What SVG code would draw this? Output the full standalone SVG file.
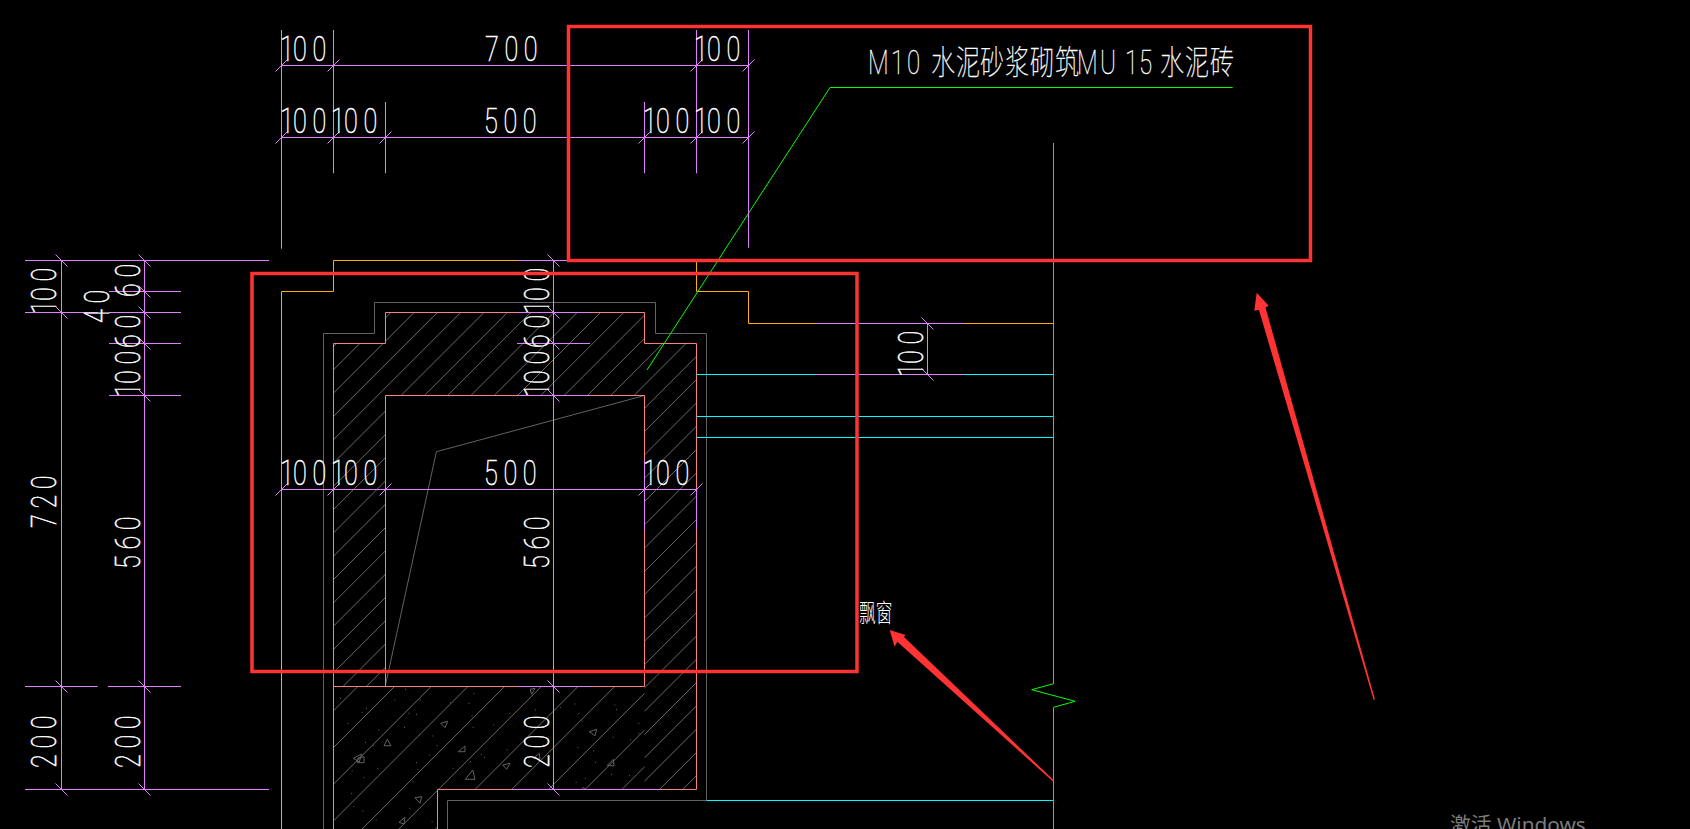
<svg xmlns="http://www.w3.org/2000/svg" width="1690" height="829" viewBox="0 0 1690 829">
<style>
.l{fill:none;stroke-width:1}
.gr{stroke:#626262}.sa{stroke:#ff7f7f}.or{stroke:#ffb000}.cy{stroke:#00ffff}.gn{stroke:#00ff00}.pu{stroke:#df80ff}.ha{stroke:#6a6a6a}
.rb{fill:none;stroke:#ff3333;stroke-width:3.5}
.ar{fill:#ff3333;stroke:none}
.d{font-family:"Roboto","Liberation Sans",sans-serif;font-weight:100;font-size:36px;letter-spacing:8px;fill:#fff;stroke:#fff;stroke-width:.6}
.n{font-family:"Roboto","Noto Sans CJK SC",sans-serif;font-weight:100;font-size:24px;fill:#fff;stroke:#fff;stroke-width:.25}
</style>
<defs>
<clipPath id="brick"><path d="M333.5 686.5V343.5H385.5V312.5H644.5V343.5H696.5V789.5H644.5V395.5H385.5V686.5Z"/></clipPath>
<clipPath id="conc"><path d="M333.5 686.5H644.5V789.5H437.5V829H333.5Z"/></clipPath>
</defs>
<rect width="1690" height="829" fill="#000"/>
<g id="hatching">
<path class="l ha" clip-path="url(#brick)" d="M300 380l420-420M300 403.3l420-420M300 426.6l420-420M300 449.9l420-420M300 473.2l420-420M300 496.5l420-420M300 519.8l420-420M300 543.1l420-420M300 566.4l420-420M300 589.7l420-420M300 613l420-420M300 636.3l420-420M300 659.6l420-420M300 682.9l420-420M300 706.2l420-420M300 729.5l420-420M300 752.8l420-420M300 776.1l420-420M300 799.4l420-420M300 822.7l420-420M300 846l420-420M300 869.3l420-420M300 892.6l420-420M300 915.9l420-420M300 939.2l420-420M300 962.5l420-420M300 985.8l420-420M300 1009.1l420-420M300 1032.4l420-420M300 1055.7l420-420M300 1079l420-420M300 1102.3l420-420M300 1125.6l420-420M300 1148.9l420-420M300 1172.2l420-420M300 1195.5l420-420"/>
<path class="l ha" clip-path="url(#conc)" d="M300 744.3l420-420M300 781l420-420M300 817.7l420-420M300 854.4l420-420M300 891.1l420-420M300 927.8l420-420M300 964.5l420-420M300 1001.2l420-420M300 1037.9l420-420M300 1074.6l420-420M300 1111.3l420-420"/>
<path class="l gr" d="M387.3 739.3L391 745.7H384ZM353.3 758.3L361.7 754L359.3 762ZM358 758L364 756.7V762.7H357.3ZM440.7 723.3L447.7 721.3L445 727.7ZM458.3 751.7L465 746V751.7ZM465.3 779.3L472.7 770L475 779.3ZM502.7 765L510 763.3L506.7 769.3ZM415 797.7L421.7 796.7L420 803.3ZM399 822.3L405 817.3L404 824ZM589.3 731.7L596.7 729.3L595 735.7ZM607.3 765.3L613.3 759.3L614 766ZM533.3 758.3L539.3 753.3L540 759.3ZM530 689.3L535 688.3L531.7 694.3ZM581.7 789.3L583.3 787.3L585.7 789.3Z"/>
<path class="gr" fill="none" stroke-width="3" transform="translate(330 680) scale(.3333)" d="M30 55h3M52 130h3M95 97h3M108 85h3M193 60h3M225 28h3M270 60h3M360 68h3M430 40h3M415 70h3M235 100h3M258 103h3M145 150h3M222 142h3M105 187h3M128 197h3M267 165h3M307 168h3M320 197h3M298 225h3M258 248h3M262 268h3M142 265h3M100 292h3M65 273h3M248 305h3M63 340h3M70 380h3M97 393h3M137 420h3M238 385h3M305 425h3M425 108h3M428 142h3M490 135h3M538 100h3M452 223h3M462 232h3M420 245h3M530 210h3M368 265h3"/>
<path class="gr" fill="none" stroke-width="3" transform="translate(530 680) scale(.3333)" d="M90 82h3M133 72h3M145 100h3M155 123h3M253 75h3M258 88h3M325 130h3M325 160h3M300 180h3M248 172h3M142 202h3M190 213h3M195 247h3M243 283h3M297 287h3M165 295h3M137 307h3M15 90h3"/>
</g>
<g id="connectors">
<path class="l gr" d="M323.5 829V333.5H374.5V302.5H655.5V333.5H706.5V800.5H447.5V829"/>
<path class="l gr" d="M385.5 685L436.4 451.7L644.5 395.5"/>
<path class="l sa" d="M333.5 829V343.5H385.5V312.5H644.5V343.5H696.5V789.5H437.5V829"/>
<path class="l sa" d="M385.5 686.5V395.5H644.5V686.5H333.5"/>
<path class="l or" d="M696.5 260.5V291.5H748.5V323.5H1053.5M281.5 829V291.5H333.5V260.5H696.5"/>
<path class="l cy" d="M696.5 374.5H1053.5M696.5 416.5H1053.5M696.5 437.5H1053.5M706.5 800.5H1053.5"/>
<path class="l gn" d="M1053.5 143V683.7L1031.7 689.7L1075 701.3L1053.5 707.3V829"/>
<path class="l gn" d="M647 370L830 87.5H1232.7"/>
<path class="l pu" d="M25 260.5H269M25 312.5H98M109 312.5H181M109 291.5H181M109 343.5H181M109 395.5H181M25 686.5H97.5M108 686.5H181M25 789.5H269M61.5 260.5V789.5M144.5 260.5V789.5M517 260.5H600M517 312.5H590M517 343.5H590M517 395.5H590M517 686.5H592M513 789.5H660M553.5 260.5V789.5M815 323.5H964M815 374.5H964M927.5 323.5V374.5"/>
<path class="l pu" d="M281.5 65.5H748.5M281.5 137.5H748.5M281.5 30V248.7M333.5 30V173.3M385.5 102V173.3M644.5 102V173.3M696.5 30V173.3M748.5 30V247.7M281.5 489.5H696.5M281.5 460V600M333.5 460V533M385.5 460V527M644.5 460V530M696.5 490V530"/>
<path class="l pu" d="M275.5 71.5l12-12M327.5 71.5l12-12M690.5 71.5l12-12M742.5 71.5l12-12M275.5 143.5l12-12M327.5 143.5l12-12M379.5 143.5l12-12M638.5 143.5l12-12M690.5 143.5l12-12M742.5 143.5l12-12M275.5 495.5l12-12M327.5 495.5l12-12M379.5 495.5l12-12M638.5 495.5l12-12M690.5 495.5l12-12M55.5 254.5l12 12M55.5 306.5l12 12M55.5 680.5l12 12M55.5 783.5l12 12M138.5 254.5l12 12M138.5 285.5l12 12M138.5 306.5l12 12M138.5 337.5l12 12M138.5 389.5l12 12M138.5 680.5l12 12M138.5 783.5l12 12M547.5 254.5l12 12M547.5 306.5l12 12M547.5 337.5l12 12M547.5 389.5l12 12M547.5 680.5l12 12M547.5 783.5l12 12M921.5 317.5l12 12M921.5 368.5l12 12"/>
</g>
<g id="dimension-labels">
<text class="d" dx="0 -9" transform="translate(280 61) scale(.7 1)">100</text>
<text class="d" transform="translate(485 61) scale(.7 1)">700</text>
<text class="d" dx="0 -9" transform="translate(694 61) scale(.7 1)">100</text>
<text class="d" dx="0 -9" transform="translate(280 132.7) scale(.7 1)">100</text>
<text class="d" dx="0 -9" transform="translate(331 132.7) scale(.7 1)">100</text>
<text class="d" transform="translate(484 132.7) scale(.7 1)">500</text>
<text class="d" dx="0 -9" transform="translate(643 132.7) scale(.7 1)">100</text>
<text class="d" dx="0 -9" transform="translate(694 132.7) scale(.7 1)">100</text>
<text class="d" dx="0 -9" transform="translate(280 484.7) scale(.7 1)">100</text>
<text class="d" dx="0 -9" transform="translate(331 484.7) scale(.7 1)">100</text>
<text class="d" transform="translate(484 484.7) scale(.7 1)">500</text>
<text class="d" dx="0 -9" transform="translate(643 484.7) scale(.7 1)">100</text>
<text class="d" dx="0 -9" transform="translate(56 314) rotate(-90) scale(.7 1)">100</text>
<text class="d" transform="translate(109 323) rotate(-90) scale(.7 1)">40</text>
<text class="d" transform="translate(140 297) rotate(-90) scale(.7 1)">60</text>
<text class="d" transform="translate(140 348) rotate(-90) scale(.7 1)">60</text>
<text class="d" dx="0 -9" transform="translate(140 397) rotate(-90) scale(.7 1)">100</text>
<text class="d" transform="translate(56 528) rotate(-90) scale(.7 1)">720</text>
<text class="d" transform="translate(140 569) rotate(-90) scale(.7 1)">560</text>
<text class="d" transform="translate(56 768) rotate(-90) scale(.7 1)">200</text>
<text class="d" transform="translate(140 768) rotate(-90) scale(.7 1)">200</text>
<text class="d" dx="0 -9" transform="translate(549 314) rotate(-90) scale(.7 1)">100</text>
<text class="d" transform="translate(549 348) rotate(-90) scale(.7 1)">60</text>
<text class="d" dx="0 -9" transform="translate(549 397) rotate(-90) scale(.7 1)">100</text>
<text class="d" transform="translate(549 569) rotate(-90) scale(.7 1)">560</text>
<text class="d" transform="translate(549 768) rotate(-90) scale(.7 1)">200</text>
<text class="d" dx="0 -9" transform="translate(923 377) rotate(-90) scale(.7 1)">100</text>
</g>
<g id="material-label">
<text class="n" transform="translate(0 74.3) scale(1 1.35)" x="868 891 907 925 931 956 980 1005 1030 1055 1077 1100 1125 1139 1155 1160 1185 1210">M10 水泥砂浆砌筑MU15 水泥砖</text>
</g>
<g id="bay-window-label">
<text transform="translate(859 622) scale(.93 1.4)" font-family="'Noto Sans CJK SC',sans-serif" font-weight="300" font-size="18" fill="#fff">飘窗</text>
</g>
<g id="annotations">
<rect class="rb" x="568.5" y="26.5" width="742" height="234"/>
<rect class="rb" x="252" y="273.5" width="605" height="398"/>
<polygon class="ar" points="1256.7,292.7 1268.7,305.7 1265.5,307.5 1375,699.6 1373.6,699.8 1259,310 1254.3,310.7"/>
<polygon class="ar" points="889.7,630 905.4,635 904,637 1054,780.5 1053,781.5 897.3,641.7 894.6,646.7"/>
</g>
<text id="watermark" x="1450" y="831.5" font-family="'Noto Sans','Noto Sans CJK SC',sans-serif" font-size="20.8" fill="#7c7c7c">激活 Windows</text>
</svg>
